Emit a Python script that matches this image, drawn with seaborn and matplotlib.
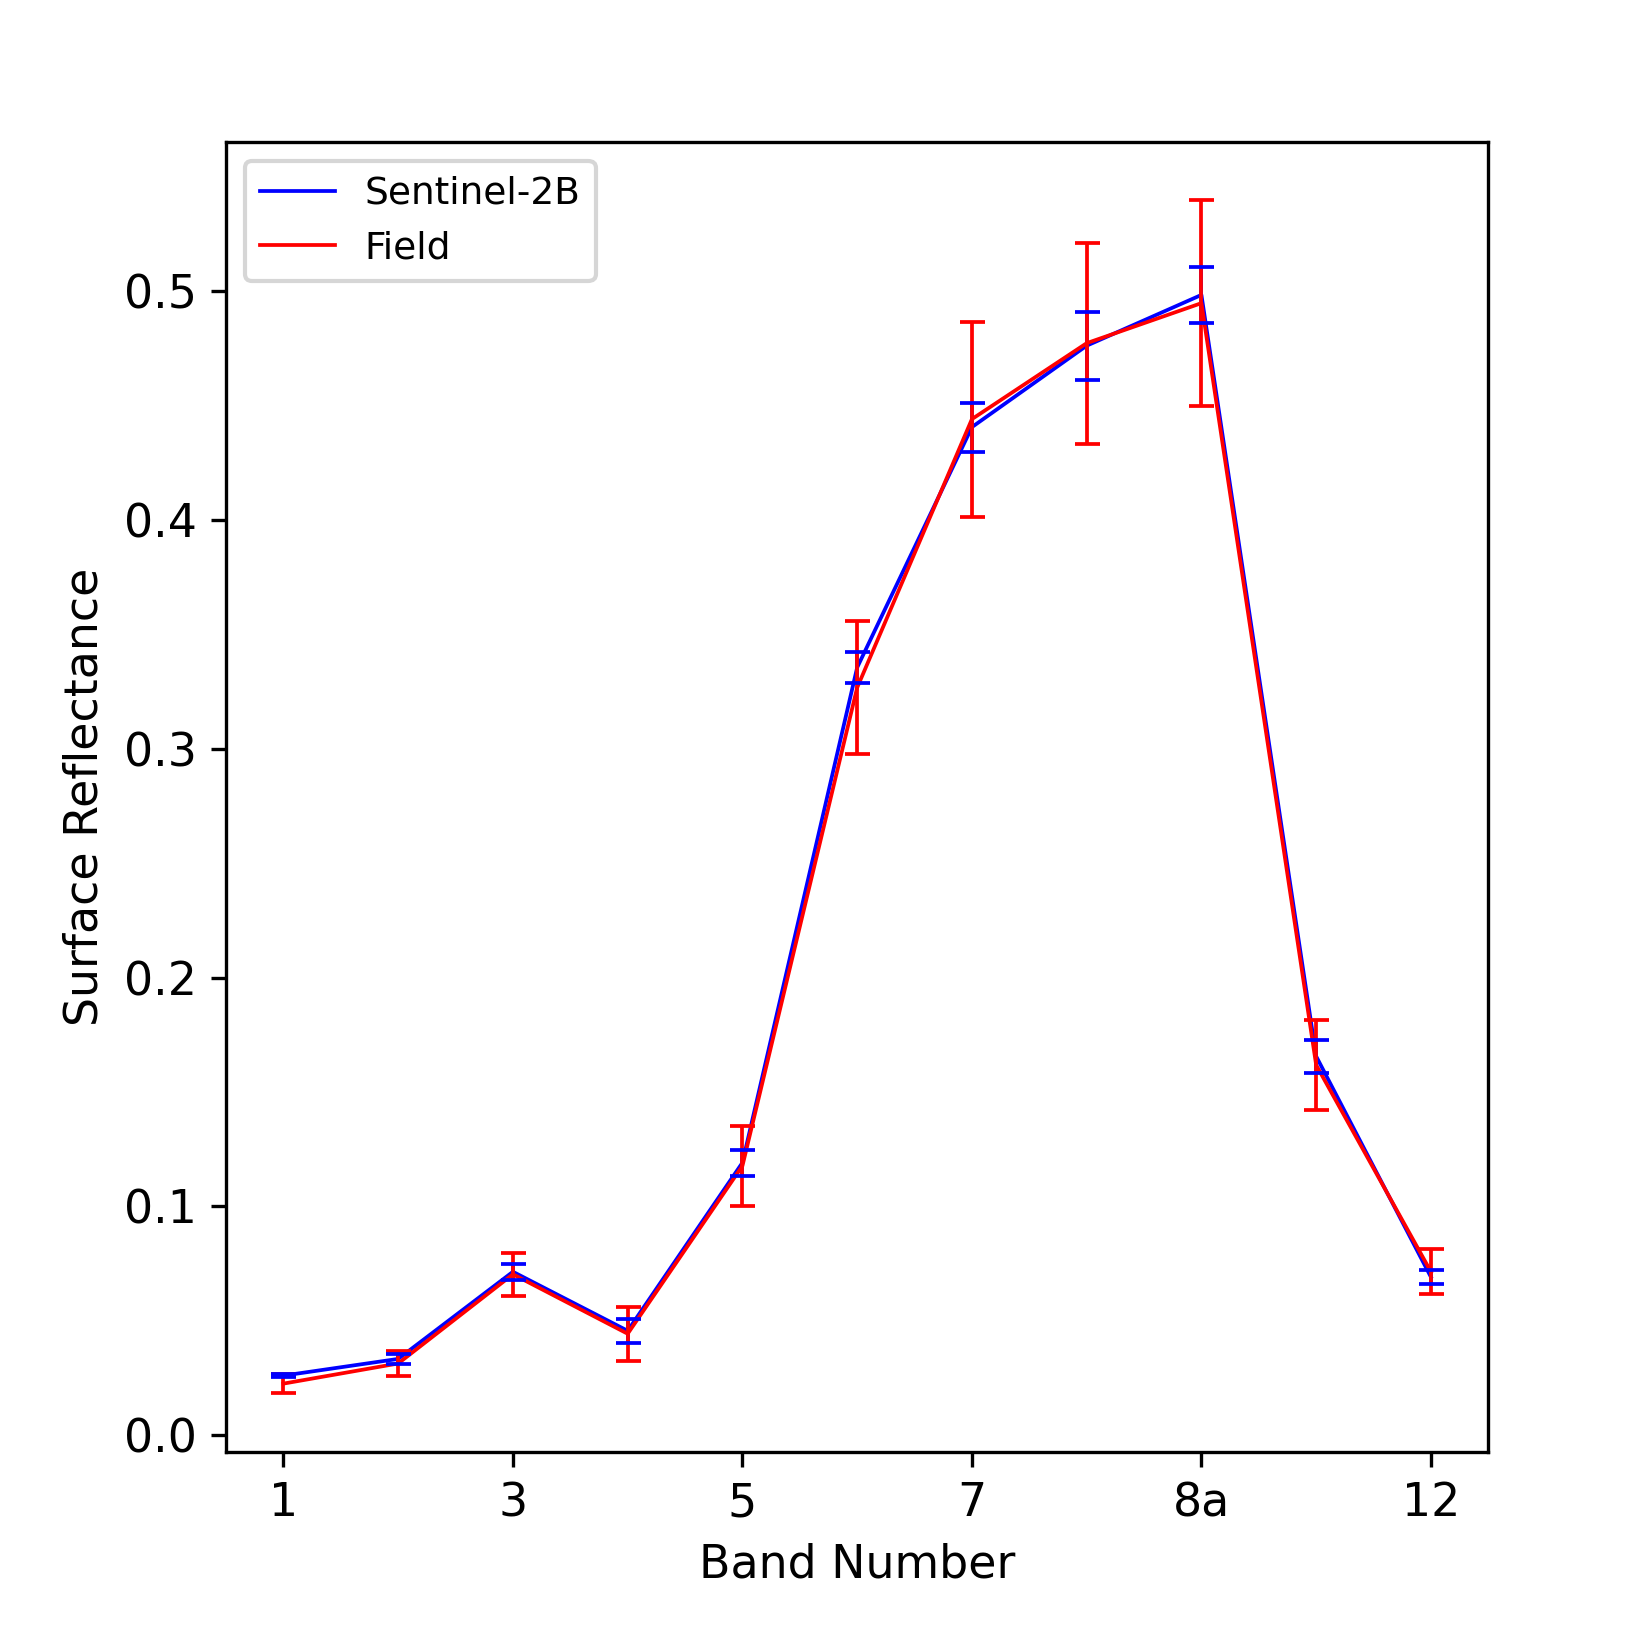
import numpy as np
import pandas as pd
import matplotlib
matplotlib.use("Agg")
import matplotlib.pyplot as plt
import seaborn as sns

bands = ["1", "2", "3", "4", "5", "6", "7", "8", "8a", "11", "12"]
sentinel_mean = [0.026, 0.0333, 0.0714, 0.0456, 0.1191, 0.3356, 0.4407, 0.4763, 0.4985, 0.1656, 0.0691]
sentinel_err = [0.0007, 0.0021, 0.0034, 0.0052, 0.0057, 0.0067, 0.0107, 0.0149, 0.0121, 0.0072, 0.0031]
field_mean = [0.0225, 0.0313, 0.0703, 0.0443, 0.1177, 0.3268, 0.4442, 0.4774, 0.4949, 0.1618, 0.0714]
field_err = [0.0040, 0.0054, 0.0094, 0.0118, 0.0174, 0.0292, 0.0426, 0.0440, 0.0449, 0.0197, 0.0098]
tick_labels = ["1", "3", "5", "7", "8a", "12"]

x = np.arange(len(bands))
df = pd.DataFrame({
    "x": np.concatenate([x, x]),
    "value": sentinel_mean + field_mean,
    "source": ["Sentinel-2B"] * len(bands) + ["Field"] * len(bands),
})

fig = plt.figure(figsize=(5.5, 5.5), dpi=300)
ax = fig.add_axes([0.137, 0.12, 0.765, 0.794])

sns.lineplot(data=df, x="x", y="value", hue="source",
             palette={"Sentinel-2B": "blue", "Field": "red"},
             linewidth=0.9, ax=ax, estimator=None, sort=False)

eb_f = ax.errorbar(x, field_mean, yerr=field_err, fmt="none", ecolor="red",
                   elinewidth=0.9, capsize=3, capthick=0.9)
eb_s = ax.errorbar(x, sentinel_mean, yerr=sentinel_err, fmt="none", ecolor="blue",
                   elinewidth=0.9, capsize=3, capthick=0.9)
for coll in eb_s[2]:
    coll.set_zorder(1.5)

tick_pos = [bands.index(t) for t in tick_labels]
ax.set_xticks(tick_pos)
ax.set_xticklabels(tick_labels)
ax.set_yticks([0.0, 0.1, 0.2, 0.3, 0.4, 0.5])
ax.tick_params(labelsize=11)
ax.set_xlabel("Band Number", fontsize=11)
ax.set_ylabel("Surface Reflectance", fontsize=11)
ax.set_xlim(-0.5, 10.5)
ax.set_ylim(-0.0074, 0.5654)

leg = ax.legend(loc="upper left", fontsize=9)
leg.set_title(None)

fig.savefig("out.png", dpi=300)
